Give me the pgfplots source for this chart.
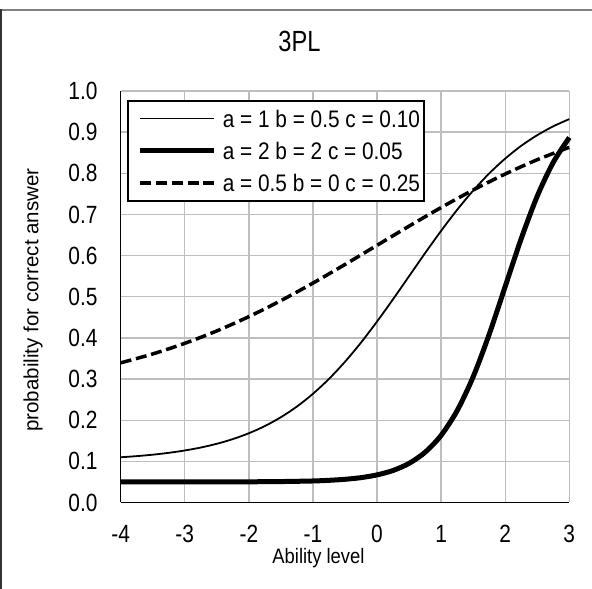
\documentclass[border=0pt]{standalone}
\usepackage{fontspec}
\setmainfont{Liberation Sans}
\newfontfamily\tickfamily{Liberation Sans}[FakeStretch=0.84]
\newfontfamily\titlefamily{Liberation Sans}[FakeStretch=0.81]
\newfontfamily\legfamily{Liberation Sans}[FakeStretch=0.87]
\newfontfamily\xlabfamily{Liberation Sans}[FakeStretch=0.88]
\newcommand\tickfont{\tickfamily\fontsize{25}{30}\selectfont}
\newcommand\titlefont{\titlefamily\fontsize{29.3}{35}\selectfont}
\newcommand\legfont{\legfamily\fontsize{24}{29}\selectfont}
\newcommand\xlabfont{\xlabfamily\fontsize{21}{25}\selectfont}
\newcommand\ylabfont{\fontsize{20.6}{25}\selectfont}
\usepackage{pgfplots}
\pgfplotsset{compat=1.18}
\definecolor{gridgray}{RGB}{190,190,190}

% 3PL item characteristic curves, P(theta) sampled on the ability scale
\pgfplotstableread{
theta  p
-4.00  0.1099
-3.75  0.1127
-3.50  0.1162
-3.25  0.1207
-3.00  0.1264
-2.75  0.1336
-2.50  0.1427
-2.25  0.1541
-2.00  0.1683
-1.75  0.1858
-1.50  0.2073
-1.25  0.2332
-1.00  0.2642
-0.75  0.3004
-0.50  0.3420
-0.25  0.3887
 0.00  0.4398
 0.25  0.4940
 0.50  0.5500
 0.75  0.6060
 1.00  0.6602
 1.25  0.7113
 1.50  0.7580
 1.75  0.7996
 2.00  0.8358
 2.25  0.8668
 2.50  0.8927
 2.75  0.9142
 3.00  0.9317
}\itemA

\pgfplotstableread{
theta  p
-4.00  0.0500
-3.50  0.0500
-3.00  0.0500
-2.50  0.0501
-2.00  0.0503
-1.50  0.0509
-1.00  0.0523
-0.75  0.0539
-0.50  0.0564
-0.25  0.0604
 0.00  0.0671
 0.25  0.0778
 0.50  0.0951
 0.75  0.1221
 1.00  0.1632
 1.25  0.2233
 1.50  0.3055
 1.75  0.4087
 2.00  0.5250
 2.25  0.6413
 2.50  0.7445
 2.75  0.8267
 3.00  0.8868
}\itemB

\pgfplotstableread{
theta  p
-4.0  0.3394
-3.5  0.3610
-3.0  0.3868
-2.5  0.4170
-2.0  0.4517
-1.5  0.4906
-1.0  0.5332
-0.5  0.5784
 0.0  0.6250
 0.5  0.6716
 1.0  0.7168
 1.5  0.7594
 2.0  0.7983
 2.5  0.8330
 3.0  0.8632
}\itemC

\begin{document}
\begin{tikzpicture}[x=1bp,y=1bp]
\useasboundingbox (0,0) rectangle (592,589);
% chart area frame
\draw[line width=1.5bp, black!50] (1,579) -- (620,579);
\draw[line width=1.5bp, black!80] (1,579.75) -- (1,-20);
\begin{axis}[
  at={(120.7bp,86.5bp)}, anchor=south west,
  scale only axis, width=448.6bp, height=411.5bp,
  xmin=-4, xmax=3, ymin=0, ymax=1,
  clip=false,
  axis x line*=bottom, axis y line*=left,
  axis line style={-, black, line width=1.5bp},
  xtick={-4,-3,-2,-1,0,1,2,3},
  xticklabels={-4,-3,-2,-1,0,1,2,3},
  ytick={0,0.1,0.2,0.3,0.4,0.5,0.6,0.7,0.8,0.9,1},
  yticklabels={0.0,0.1,0.2,0.3,0.4,0.5,0.6,0.7,0.8,0.9,1.0},
  major tick length=0pt,
  grid=major,
  major grid style={gridgray, line width=1.3bp},
  xticklabel style={font=\tickfont, anchor=base, yshift=-40bp, inner sep=0pt},
  yticklabel style={font=\tickfont, anchor=east, xshift=-23bp, inner sep=0pt},
  title={3PL},
  title style={font=\titlefont, at={(axis description cs:0.3986,1.0809)}, anchor=base, inner sep=0pt},
  xlabel={Ability level},
  xlabel style={font=\xlabfont, at={(axis description cs:0.4409,-0.148)}, anchor=base, inner sep=0pt},
  ylabel={probability for correct answer},
  ylabel style={font=\ylabfont, at={(axis description cs:-0.1955,0.492)}, anchor=center, inner sep=0pt},
  legend cell align=left,
  legend image code/.code={%
    \path[draw=none] (-8.6bp,0bp) -- (74bp,0bp);
    \draw[#1, line cap=butt] (0bp,0bp) -- (74bp,0bp);},
  legend style={
    at={(axis description cs:0.0134,0.978)}, anchor=north west,
    draw=black, line width=2bp, fill=white,
    font=\legfont, inner xsep=4bp, inner ysep=9bp, row sep=15.3bp,
    nodes={inner sep=0bp, text height=17bp, text depth=0bp},
    /tikz/every odd column/.append style={column sep=6bp}},
]
\addplot[black, line width=1.8bp, smooth, line join=round] table[x=theta, y=p] {\itemA};
\addlegendentry{a = 1 b = 0.5 c = 0.10}
\addplot[black, line width=5bp, smooth, line join=round] table[x=theta, y=p] {\itemB};
\addlegendentry{a = 2 b = 2 c = 0.05}
\addplot[black, line width=3.5bp, smooth, dash pattern=on 11bp off 4.75bp] table[x=theta, y=p] {\itemC};
\addlegendentry{a = 0.5 b = 0 c = 0.25}
\end{axis}
\end{tikzpicture}
\end{document}
